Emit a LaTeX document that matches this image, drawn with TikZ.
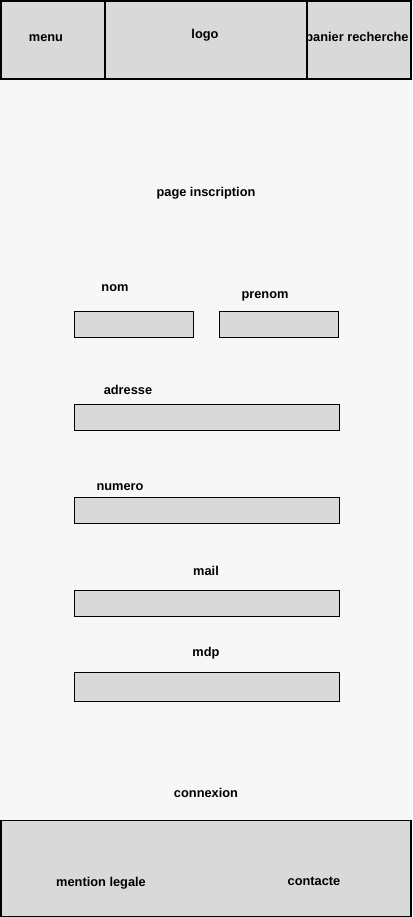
\documentclass[tikz,border=0pt]{standalone}
\usepackage{fontspec}
\setmainfont{Liberation Sans}
\usetikzlibrary{positioning}
\definecolor{pagebg}{HTML}{F7F7F7}
\definecolor{boxgrey}{HTML}{D9D9D9}

\begin{document}
\begin{tikzpicture}[x=1pt,y=-1pt,font=\bfseries\fontsize{12.8}{15}\selectfont,
    field/.style={draw,rectangle,fill=boxgrey,line width=1pt,inner sep=0pt,outer sep=0pt,minimum height=26pt},
    headbox/.style={draw,rectangle,fill=boxgrey,line width=2pt,inner sep=0pt,outer sep=0pt,minimum height=78pt}]
        \fill[pagebg] (0,0) rectangle (412,917);
        \useasboundingbox (0,0) rectangle (412,917);
        % header
        \node(menu)[headbox,minimum width=104pt,anchor=north west] at (1,1) {};
        \node(logo)[right =0pt of menu,headbox,minimum width=202pt] {};
        \node(panier)[right =0pt of logo,headbox,minimum width=104pt] {};
        \node(menutext) at (46,38) {menu};
        \node(logotext) at (205,35) {logo};
        \node(paniertext) at (357,38) {panier recherche};
        % title
        \node(title) at (206,193) {page inscription};
        % form
        \node(nomfield)[field,minimum width=119pt] at (133.5,324) {};
        \node(prenomfield)[right =26pt of nomfield,field,minimum width=119pt] {};
        \node(nom) at (115,288) {nom};
        \node(prenom) at (265,296) {prenom};
        \node(adressefield)[field,minimum width=265pt] at (206.5,417) {};
        \node(adresse) at (128,390) {adresse};
        \node(numerofield)[field,minimum width=265pt] at (206.5,510) {};
        \node(numero) at (120,487) {numero};
        \node(mailfield)[field,minimum width=265pt] at (206.5,603) {};
        \node(mail) at (206,571) {mail};
        \node(mdpfield)[field,minimum width=265pt,minimum height=29pt] at (206.5,686.5) {};
        \node(mdp) at (206,653) {mdp};
        \node(connexion) at (206,793) {connexion};
        % footer
        \node(footer)[draw,rectangle,fill=boxgrey,line width=1.5pt,inner sep=0pt,outer sep=0pt,minimum width=410pt,minimum height=96pt,anchor=north west] at (1,820.5) {};
        \node(mention) at (101,883) {mention legale};
        \node(contacte) at (314,881) {contacte};
    \end{tikzpicture}
\end{document}
